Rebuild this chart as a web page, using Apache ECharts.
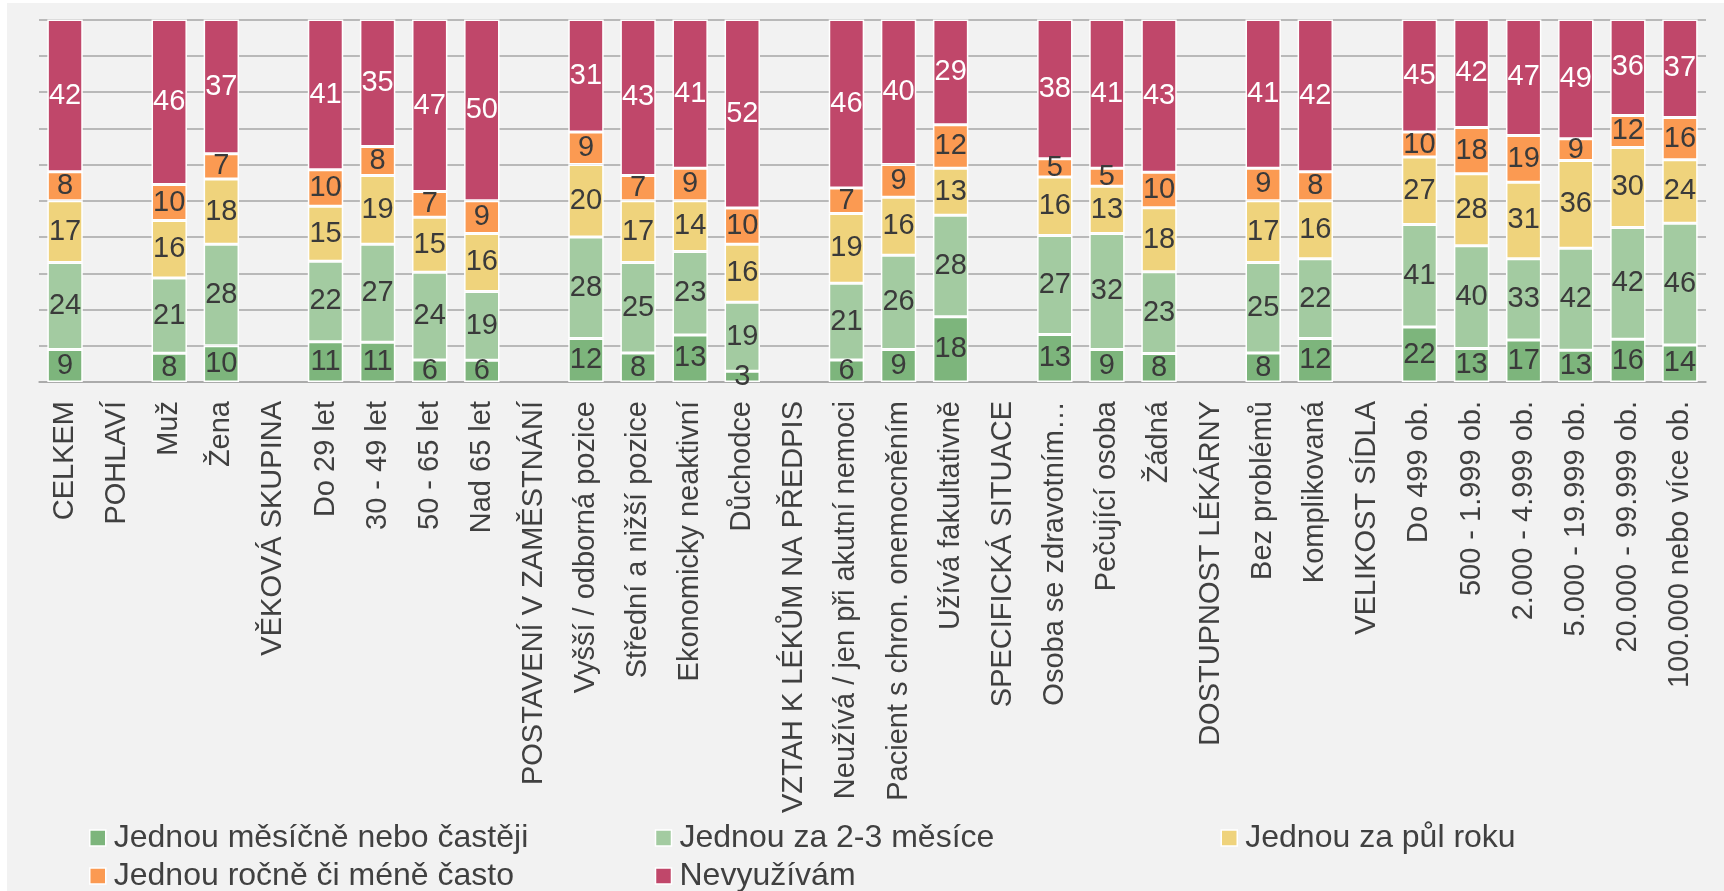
<!DOCTYPE html>
<html>
<head>
<meta charset="utf-8">
<script src="https://cdn.jsdelivr.net/npm/echarts@6/dist/echarts.min.js"></script>
<style>
  html, body { margin: 0; padding: 0; background: #ffffff; }
  #main { position: absolute; left: 7px; top: 3px; width: 1717px; height: 888px; background: #f2f2f2; }
</style>
</head>
<body>
<div id="main"></div>
<script>
var categories = [
  'CELKEM', 'POHLAVÍ', 'Muž', 'Žena', 'VĚKOVÁ SKUPINA', 'Do 29 let', '30 - 49 let', '50 - 65 let', 'Nad 65 let',
  'POSTAVENÍ V ZAMĚSTNÁNÍ', 'Vyšší / odborná pozice', 'Střední a nižší pozice', 'Ekonomicky neaktivní', 'Důchodce',
  'VZTAH K LÉKŮM NA PŘEDPIS', 'Neužívá / jen při akutní nemoci', 'Pacient s chron. onemocněním', 'Užívá fakultativně',
  'SPECIFICKÁ SITUACE', 'Osoba se zdravotním…', 'Pečující osoba', 'Žádná',
  'DOSTUPNOST LÉKÁRNY', 'Bez problémů', 'Komplikovaná',
  'VELIKOST SÍDLA', 'Do 499 ob.', '500 - 1.999 ob.', '2.000 - 4.999 ob.', '5.000 - 19.999 ob.', '20.000 - 99.999 ob.', '100.000 nebo více ob.'
];

var seriesNames = ['Jednou měsíčně nebo častěji', 'Jednou za 2-3 měsíce', 'Jednou za půl roku', 'Jednou ročně či méně často', 'Nevyužívám'];
var colors = ['#7db57c', '#a3cba1', '#efd37c', '#fb9a52', '#c0476a'];

// hodnoty v %, null = nadpis skupiny
var mesicne = [9, null, 8, 10, null, 11, 11, 6, 6, null, 12, 8, 13, 3, null, 6, 9, 18, null, 13, 9, 8, null, 8, 12, null, 22, 13, 17, 13, 16, 14];
var za23 = [24, null, 21, 28, null, 22, 27, 24, 19, null, 28, 25, 23, 19, null, 21, 26, 28, null, 27, 32, 23, null, 25, 22, null, 41, 40, 33, 42, 42, 46];
var pulRoku = [17, null, 16, 18, null, 15, 19, 15, 16, null, 20, 17, 14, 16, null, 19, 16, 13, null, 16, 13, 18, null, 17, 16, null, 27, 28, 31, 36, 30, 24];
var rocne = [8, null, 10, 7, null, 10, 8, 7, 9, null, 9, 7, 9, 10, null, 7, 9, 12, null, 5, 5, 10, null, 9, 8, null, 10, 18, 19, 9, 12, 16];
var nevyuzivam = [42, null, 46, 37, null, 41, 35, 47, 50, null, 31, 43, 41, 52, null, 46, 40, 29, null, 38, 41, 43, null, 41, 42, null, 45, 42, 47, 49, 36, 37];

var rows = [mesicne, za23, pulRoku, rocne, nevyuzivam];

// 100% skládaný graf - přepočet na podíl, popisek ukazuje původní hodnotu
var totals = categories.map(function (c, i) {
  var s = 0;
  rows.forEach(function (r) { if (r[i] != null) s += r[i]; });
  return s;
});

var font = 'Liberation Sans, Arial, sans-serif';

var series = rows.map(function (r, k) {
  return {
    name: seriesNames[k],
    type: 'bar',
    stack: 'all',
    barWidth: '68%',
    data: r.map(function (v, i) {
      return v == null ? null : { value: v / totals[i] * 100, raw: v };
    }),
    itemStyle: { color: colors[k], borderColor: '#ffffff', borderWidth: 1.5 },
    label: {
      show: true,
      position: 'inside',
      fontFamily: font,
      fontSize: 29,
      color: k === 4 ? '#ffffff' : '#3a3a3a',
      formatter: function (p) { return p.data ? p.data.raw : ''; }
    }
  };
});

var legendData = seriesNames.map(function (n, k) {
  var item = { name: n };
  if (k === 0 || k === 1 || k === 3) item.textStyle = { width: 541 };
  return item;
});

var myChart = echarts.init(document.getElementById('main'));
myChart.setOption({
  backgroundColor: '#f2f2f2',
  animation: false,
  color: colors,
  grid: { left: 32, right: 18, top: 16.5, height: 362.5 },
  legend: {
    left: 77,
    top: 811,
    width: 1500,
    itemGap: 0,
    itemWidth: 16,
    itemHeight: 16,
    icon: 'rect',
    itemStyle: { borderColor: '#ffffff', borderWidth: 1.5 },
    textStyle: { fontFamily: font, fontSize: 32, color: '#404040', lineHeight: 38, padding: [0, 0, 0, 3] },
    data: legendData
  },
  xAxis: {
    type: 'category',
    data: categories,
    axisLine: { lineStyle: { color: '#a6a6a6', width: 1.5 } },
    axisTick: { length: 8, lineStyle: { color: '#a6a6a6', width: 1.5 } },
    axisLabel: { rotate: 90, interval: 0, margin: 19, fontFamily: font, fontSize: 29, color: '#404040' }
  },
  yAxis: {
    type: 'value',
    min: 0,
    max: 100,
    interval: 10,
    axisLabel: { show: false },
    axisLine: { show: false },
    axisTick: { show: false },
    splitLine: { lineStyle: { color: '#a6a6a6', width: 1.5 } }
  },
  series: series
});
</script>
</body>
</html>
